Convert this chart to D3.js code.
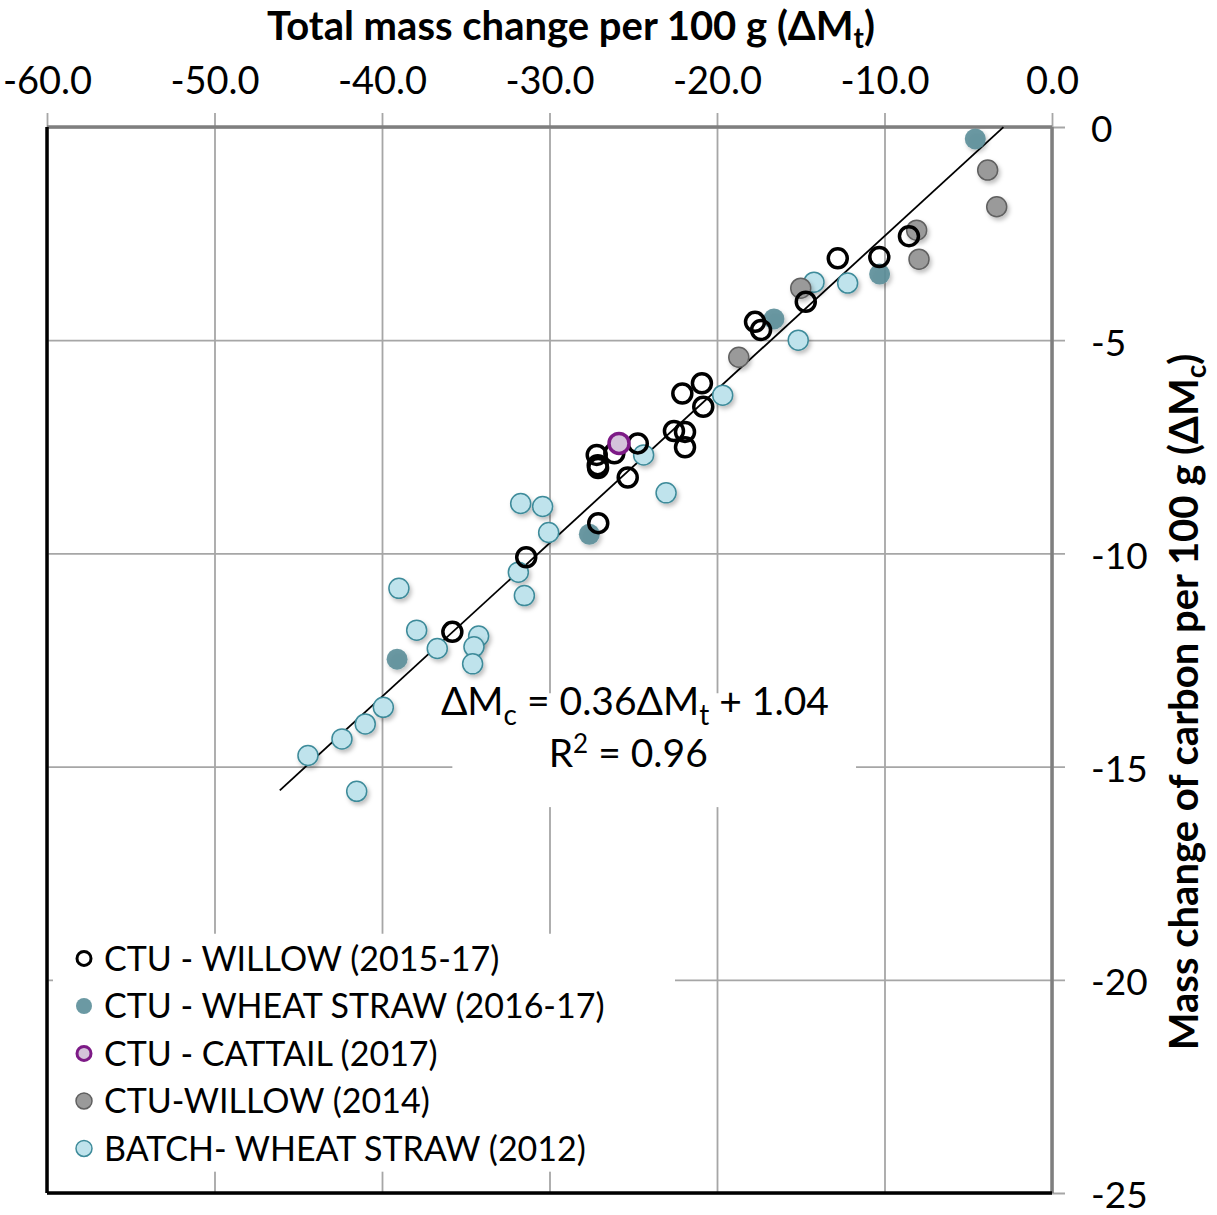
<!DOCTYPE html>
<html>
<head>
<meta charset="utf-8">
<script src="https://cdn.jsdelivr.net/npm/d3@7"></script>
<style>
  body { margin: 0; background: #fff; }
  text { font-family: Lato, "Open Sans", sans-serif; fill: #000; }
</style>
</head>
<body>
<div id="canvas"></div>
<script>
// DATA  [total mass change, carbon mass change]
const willow1517 = [
  [-20.9, -6.01], [-22.07, -6.25], [-20.82, -6.56], [-22.57, -7.13], [-21.91, -7.15],
  [-21.91, -7.51], [-24.73, -7.42], [-26.13, -7.65], [-27.18, -7.69], [-27.12, -7.93],
  [-27.1, -8.0], [-25.33, -8.22], [-27.09, -9.29], [-31.39, -10.09], [-35.8, -11.84],
  [-8.54, -2.56], [-10.31, -3.05], [-12.79, -3.08], [-14.7, -4.1], [-17.73, -4.57],
  [-17.37, -4.76]
];
const wheatStraw1617 = [
  [-4.58, -0.28], [-10.29, -3.45], [-16.6, -4.5], [-27.62, -9.55], [-39.1, -12.48]
];
const cattail2017 = [[-25.85, -7.42]];
const willow2014 = [
  [-3.84, -1.01], [-3.3, -1.87], [-8.08, -2.42], [-7.94, -3.1], [-15.0, -3.78], [-18.7, -5.4]
];
const batchWheat2012 = [
  [-19.66, -6.29], [-24.38, -7.69], [-23.04, -8.58], [-14.21, -3.64], [-12.2, -3.66],
  [-15.15, -5.0], [-31.72, -8.83], [-30.41, -8.9], [-30.05, -9.51], [-31.86, -10.44],
  [-31.5, -10.99], [-38.99, -10.82], [-37.93, -11.8], [-34.23, -11.94], [-34.51, -12.19],
  [-34.59, -12.59], [-36.7, -12.23], [-39.92, -13.61], [-41.0, -14.0], [-42.39, -14.35],
  [-44.42, -14.74], [-41.51, -15.58]
];
const xTicks = [-60, -50, -40, -30, -20, -10, 0];
const yTicks = [0, -5, -10, -15, -20, -25];
const fitSlope = 0.36, fitIntercept = 1.04, fitRange = [-46.1, -2.9];

const series = [
  { name: "CTU - WILLOW (2015-17)", data: willow1517, fill: "none", stroke: "#000", sw: 3.5, r: 9.5, shadow: false },
  { name: "CTU - WHEAT STRAW (2016-17)", data: wheatStraw1617, fill: "#5b8e99", stroke: "none", sw: 0, r: 10.5, shadow: true, op: 0.9 },
  { name: "CTU - CATTAIL (2017)", data: cattail2017, fill: "#d4c3da", stroke: "#7d1a86", sw: 3.5, r: 10, shadow: false },
  { name: "CTU-WILLOW (2014)", data: willow2014, fill: "#9a9a9a", stroke: "#606060", sw: 1.5, r: 10, shadow: true },
  { name: "BATCH- WHEAT STRAW (2012)", data: batchWheat2012, fill: "#bfe3ec", stroke: "#3e8b9a", sw: 1.5, r: 10, shadow: true }
];

function drawGraph() {
  const width = 1217, height = 1215;
  const margin = { top: 127, left: 47, right: 165, bottom: 22 };
  const plot_width = width - margin.left - margin.right;
  const plot_height = height - margin.top - margin.bottom;

  const svg = d3.select('#canvas').append('svg')
    .attr('width', width).attr('height', height);

  const defs = svg.append('defs');
  defs.append('filter').attr('id', 'shadow')
    .attr('x', '-50%').attr('y', '-50%').attr('width', '200%').attr('height', '200%')
    .append('feDropShadow')
    .attr('dx', 2).attr('dy', 3).attr('stdDeviation', 2)
    .attr('flood-color', '#000').attr('flood-opacity', 0.25);

  const plot = svg.append('g')
    .attr('transform', `translate(${margin.left},${margin.top})`);

  // SCALES
  const x = d3.scaleLinear().domain([-60, 0]).range([0, plot_width]);
  const y = d3.scaleLinear().domain([0, -25]).range([0, plot_height]);

  // AXES / GRID
  const xAx = plot.append('g')
    .call(d3.axisTop(x).tickValues(xTicks).tickFormat(d => d.toFixed(1))
      .tickSize(-plot_height - 14).tickPadding(18));
  xAx.select('.domain').remove();
  xAx.selectAll('.tick line').attr('y1', -14).attr('y2', plot_height)
    .attr('stroke', '#a6a6a6').attr('stroke-width', 1.8);
  xAx.selectAll('.tick text').attr('font-size', 38).attr('y', -33);

  const yAx = plot.append('g')
    .attr('transform', `translate(${plot_width},0)`)
    .call(d3.axisRight(y).tickValues(yTicks).tickFormat(d => d)
      .tickSize(13).tickPadding(26));
  yAx.select('.domain').remove();
  yAx.selectAll('.tick line').attr('x1', -plot_width).attr('x2', 13)
    .attr('stroke', '#a6a6a6').attr('stroke-width', 1.8);
  yAx.selectAll('.tick text').attr('font-size', 37).attr('dy', '0.4em');

  // FRAME
  plot.append('line').attr('x1', 0).attr('x2', plot_width).attr('y1', 0).attr('y2', 0)
    .attr('stroke', '#7f7f7f').attr('stroke-width', 3.5);
  plot.append('line').attr('x1', plot_width).attr('x2', plot_width).attr('y1', 0).attr('y2', plot_height)
    .attr('stroke', '#7f7f7f').attr('stroke-width', 3.5);
  plot.append('line').attr('x1', 0).attr('x2', 0).attr('y1', 0).attr('y2', plot_height)
    .attr('stroke', '#000').attr('stroke-width', 3.5);
  plot.append('line').attr('x1', 0).attr('x2', plot_width).attr('y1', plot_height).attr('y2', plot_height)
    .attr('stroke', '#000').attr('stroke-width', 3.5);

  // EQUATION BOX
  plot.append('rect')
    .attr('x', x(-35.8)).attr('y', y(-13.28))
    .attr('width', x(-11.7) - x(-35.8)).attr('height', y(-15.95) - y(-13.28))
    .attr('fill', '#fff');

  // TREND LINE
  const line = d3.line().x(d => x(d)).y(d => y(fitSlope * d + fitIntercept));
  plot.append('path').datum(fitRange)
    .attr('d', line).attr('fill', 'none').attr('stroke', '#000').attr('stroke-width', 1.8);

  // POINTS (open willow and cattail circles drawn last)
  [4, 3, 1, 0, 2].forEach(i => {
    const s = series[i];
    plot.append('g').selectAll('circle').data(s.data).enter()
      .append('circle')
      .attr('cx', d => x(d[0])).attr('cy', d => y(d[1]))
      .attr('r', s.r)
      .attr('fill', s.fill).attr('fill-opacity', s.op || 1)
      .attr('stroke', s.stroke).attr('stroke-width', s.sw)
      .attr('filter', s.shadow ? 'url(#shadow)' : null);
  });

  // EQUATION TEXT
  const eq = plot.append('text')
    .attr('x', x(-24.9)).attr('y', y(-13.8)).attr('text-anchor', 'middle').attr('font-size', 39);
  eq.append('tspan').text('ΔM');
  eq.append('tspan').attr('dy', 10).attr('font-size', 28).text('c');
  eq.append('tspan').attr('dy', -10).text(' = 0.36ΔM');
  eq.append('tspan').attr('dy', 10).attr('font-size', 28).text('t');
  eq.append('tspan').attr('dy', -10).text(' + 1.04');
  const r2 = plot.append('text')
    .attr('x', x(-25.3)).attr('y', y(-15.0)).attr('text-anchor', 'middle').attr('font-size', 39);
  r2.append('tspan').text('R');
  r2.append('tspan').attr('dy', -14).attr('font-size', 26).text('2');
  r2.append('tspan').attr('dy', 14).text(' = 0.96');

  // LEGEND
  const leg = plot.append('g');
  leg.append('rect')
    .attr('x', 6).attr('y', y(-18.92))
    .attr('width', 622).attr('height', y(-24.5) - y(-18.92))
    .attr('fill', '#fff');
  series.forEach((s, i) => {
    const cy = y(-19.5) + i * 47.5;
    leg.append('circle')
      .attr('cx', 37).attr('cy', cy).attr('r', s.sw >= 3 ? 7 : 8)
      .attr('fill', s.fill).attr('fill-opacity', s.op || 1)
      .attr('stroke', s.stroke).attr('stroke-width', s.sw >= 3 ? 3 : s.sw);
    leg.append('text')
      .attr('x', 57).attr('y', cy).attr('dy', '0.36em')
      .attr('font-size', 34).text(s.name);
  });

  // TITLES
  const xt = svg.append('text')
    .attr('x', 571).attr('y', 40).attr('text-anchor', 'middle')
    .attr('font-size', 40).attr('font-weight', 'bold');
  xt.append('tspan').text('Total mass change per 100 g (ΔM');
  xt.append('tspan').attr('dy', 8).attr('font-size', 28).text('t');
  xt.append('tspan').attr('dy', -8).text(')');

  const yt = svg.append('text')
    .attr('transform', 'translate(1198,702) rotate(-90)').attr('text-anchor', 'middle')
    .attr('font-size', 40).attr('font-weight', 'bold');
  yt.append('tspan').text('Mass change of carbon per 100 g (ΔM');
  yt.append('tspan').attr('dy', 8).attr('font-size', 28).text('c');
  yt.append('tspan').attr('dy', -8).text(')');
}

drawGraph();
</script>
</body>
</html>
